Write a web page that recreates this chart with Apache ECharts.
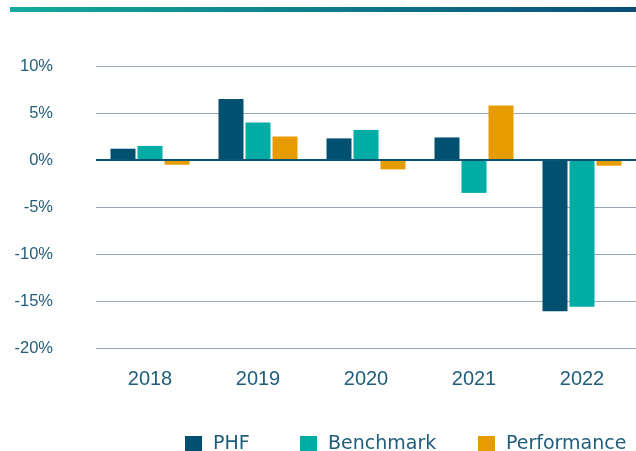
<!DOCTYPE html>
<html><head><meta charset="utf-8">
<script src="https://cdn.jsdelivr.net/npm/echarts@6/dist/echarts.min.js"></script>
<style>html,body{margin:0;padding:0;background:#fff}#c{width:636px;height:451px}</style>
</head><body><div id="c"></div>
<script>
const years = ['2018','2019','2020','2021','2022'];
const phf = [1.2, 6.5, 2.3, 2.4, -16.1];
const benchmark = [1.5, 4.0, 3.2, -3.5, -15.6];
const performance = [-0.5, 2.5, -1.0, 5.8, -0.6];
const yTicks = [-20, -15, -10, -5, 0, 5, 10];
const seriesNames = ['PHF','Benchmark','Performance'];

const chart = echarts.init(document.getElementById('c'), null, {renderer:'canvas'});
const txt = '#1f5d7c';
const axFont = "'Liberation Sans',sans-serif";
const legendLefts = [180, 295, 473];
chart.setOption({
  animation:false,
  graphic:[{type:'rect', shape:{x:10,y:7,width:626,height:5}, style:{fill:new echarts.graphic.LinearGradient(0,0,1,0,[{offset:0,color:'#14ab9d'},{offset:1,color:'#0b4d78'}])}}],
  grid:{left:96,right:0,top:66,bottom:103,outerBoundsMode:'none',containLabel:false},
  legend:seriesNames.map((n,i)=>({left:legendLefts[i],top:430,itemWidth:17,itemHeight:17,icon:'rect',
    textStyle:{color:txt,fontSize:19,fontFamily:'DejaVu Sans',padding:[0,0,0,6]},data:[n]})),
  xAxis:{type:'category',data:years,axisTick:{show:false},axisLine:{show:false},
    axisLabel:{color:txt,fontSize:20,fontFamily:axFont,margin:21}},
  yAxis:{type:'value',min:yTicks[0],max:yTicks[yTicks.length-1],interval:5,
    axisLabel:{formatter:'{value}%',color:txt,fontSize:16.5,fontFamily:axFont,margin:43},
    splitLine:{lineStyle:{color:'#9ba6b6',width:1}},axisLine:{show:false},axisTick:{show:false}},
  series:[
    {name:seriesNames[0],type:'bar',data:phf,barWidth:25,barGap:'8%',itemStyle:{color:'#025070'},
      markLine:{silent:true,symbol:'none',label:{show:false},lineStyle:{color:'#0b5372',width:2,type:'solid'},data:[{yAxis:0}]}},
    {name:seriesNames[1],type:'bar',data:benchmark,barWidth:25,barGap:'8%',itemStyle:{color:'#00aca4'}},
    {name:seriesNames[2],type:'bar',data:performance,barWidth:25,barGap:'8%',itemStyle:{color:'#e69c00'}}
  ]
});
</script></body></html>
